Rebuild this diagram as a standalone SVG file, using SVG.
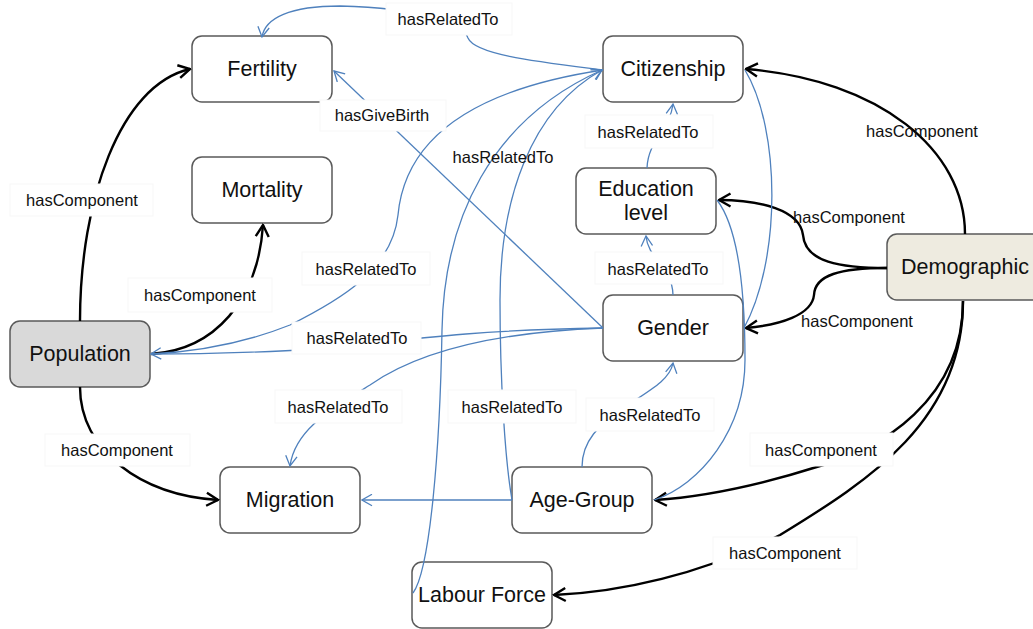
<svg xmlns="http://www.w3.org/2000/svg" width="1033" height="629" viewBox="0 0 1033 629">
<style>
.node rect{stroke:#5a5a5a;stroke-width:1.5;fill:#fff}
.node text{font-family:"Liberation Sans",Arial,sans-serif;font-size:21.5px;fill:#111;text-anchor:middle;dominant-baseline:central}
.k{fill:none;stroke:#000;stroke-width:2.4}
.b{fill:none;stroke:#4f81bd;stroke-width:1.3}
.lb rect{fill:#fff;stroke:#f7f7f7;stroke-width:1}
.lb text{font-family:"Liberation Sans",Arial,sans-serif;font-size:16.5px;fill:#111;text-anchor:middle;dominant-baseline:central}
</style>
<defs>
<marker id="ak" viewBox="0 0 16 16" refX="14.5" refY="8" markerWidth="16" markerHeight="16" markerUnits="userSpaceOnUse" orient="auto"><path d="M3,1.5 L14.5,8 L3,14.5" fill="none" stroke="#000" stroke-width="2.4"/></marker>
<marker id="au" viewBox="0 0 13 13" refX="12" refY="6.5" markerWidth="13" markerHeight="13" markerUnits="userSpaceOnUse" orient="auto"><path d="M2,0.8 L12,6.5 L2,12.2" fill="none" stroke="#4f81bd" stroke-width="1.3"/></marker>
</defs>
<rect width="1033" height="629" fill="#fff"/>
<g id="n-fertility" class="node"><rect x="192" y="36" width="140" height="66" rx="10"/><text x="262" y="69">Fertility</text></g>
<g id="n-citizenship" class="node"><rect x="603" y="36" width="140" height="66" rx="10"/><text x="673" y="69">Citizenship</text></g>
<g id="n-mortality" class="node"><rect x="192" y="157" width="140" height="66" rx="10"/><text x="262" y="190">Mortality</text></g>
<g id="n-education" class="node"><rect x="576" y="168" width="140" height="66" rx="10"/><text x="646" y="189">Education</text><text x="646" y="213">level</text></g>
<g id="n-population" class="node"><rect x="10" y="321" width="140" height="66" rx="10" style="fill:#d9d9d9"/><text x="80" y="354">Population</text></g>
<g id="n-gender" class="node"><rect x="603" y="295" width="140" height="66" rx="10"/><text x="673" y="328">Gender</text></g>
<g id="n-demographic" class="node"><rect x="887" y="234" width="160" height="66" rx="10" style="fill:#eeebe0"/><text x="965" y="267">Demographic</text></g>
<g id="n-migration" class="node"><rect x="220" y="467" width="140" height="66" rx="10"/><text x="290" y="500">Migration</text></g>
<g id="n-agegroup" class="node"><rect x="512" y="467" width="140" height="66" rx="10"/><text x="582" y="500">Age-Group</text></g>
<g id="n-labour" class="node"><rect x="412" y="562" width="140" height="66" rx="10"/><text x="482" y="595">Labour Force</text></g>
<g id="connectors">
<path class="k" d="M80,321 C80,200 120,85 190,69" marker-end="url(#ak)"/>
<path class="k" d="M151,354 C215,350 258,300 263,225" marker-end="url(#ak)"/>
<path class="k" d="M80,387 C80,450 140,495 218,500" marker-end="url(#ak)"/>
<path class="k" d="M965,234 C965,150 880,80 746,69" marker-end="url(#ak)"/>
<path class="k" d="M887,268 C840,268 805,262 803,235 C800,210 760,200 719,200" marker-end="url(#ak)"/>
<path class="k" d="M887,268 C840,268 815,275 814,295 C812,315 780,325 746,328" marker-end="url(#ak)"/>
<path class="k" d="M963,301 C963,400 880,450 820,466 C760,485 700,497 655,500" marker-end="url(#ak)"/>
<path class="k" d="M963,301 C963,420 870,480 780,535 C700,575 620,592 554,595" marker-end="url(#ak)"/>
<path class="b" d="M603,70 C540,62 475,55 468,38 C460,15 400,8 340,6 C290,6 265,18 262,37" marker-end="url(#au)"/>
<path class="b" d="M603,70 C470,90 405,140 398,215 C392,270 340,300 290,325 C240,345 190,352 151,354" marker-end="url(#au)"/>
<path class="b" d="M413,593 C430,570 440,450 442,330 C444,220 490,120 602,70" marker-end="url(#au)"/>
<path class="b" d="M512,500 C505,460 500,380 500,300 C500,200 530,110 602,70" marker-end="url(#au)"/>
<path class="b" d="M603,328 L334,71" marker-end="url(#au)"/>
<path class="b" d="M603,328 C480,330 420,338 360,345 C300,352 200,354 152,354"/>
<path class="b" d="M603,328 C500,332 420,350 370,385 C330,410 295,430 290,466" marker-end="url(#au)"/>
<path class="b" d="M512,500 L362,500" marker-end="url(#au)"/>
<path class="b" d="M647,168 C648,140 670,130 673,104" marker-end="url(#au)"/>
<path class="b" d="M673,295 C672,265 648,260 646,236" marker-end="url(#au)"/>
<path class="b" d="M582,467 C582,440 600,425 620,410 C650,390 670,380 673,363" marker-end="url(#au)"/>
<path class="b" d="M717,200 C740,230 745,300 745,360 C745,430 700,485 654,500"/>
<path class="b" d="M744,328 C781,260 781,130 745,70"/>
</g>
<g id="labels">
<g class="lb"><rect x="10" y="184" width="143" height="32"/><text x="82" y="200">hasComponent</text></g>
<g class="lb"><rect x="128" y="278" width="144" height="34"/><text x="200" y="295">hasComponent</text></g>
<g class="lb"><rect x="45" y="434" width="145" height="32"/><text x="117" y="450">hasComponent</text></g>
<g class="lb"><rect x="302" y="252" width="128" height="33"/><text x="366" y="269">hasRelatedTo</text></g>
<g class="lb"><rect x="292" y="322" width="129" height="32"/><text x="357" y="338">hasRelatedTo</text></g>
<g class="lb"><rect x="320" y="100" width="126" height="31"/><text x="382" y="115">hasGiveBirth</text></g>
<g class="lb"><rect x="386" y="3" width="126" height="32"/><text x="448" y="19">hasRelatedTo</text></g>
<g class="lb"><text x="503" y="157">hasRelatedTo</text></g>
<g class="lb"><rect x="585" y="115" width="128" height="33"/><text x="648" y="132">hasRelatedTo</text></g>
<g class="lb"><rect x="595" y="252" width="128" height="32"/><text x="658" y="269">hasRelatedTo</text></g>
<g class="lb"><rect x="275" y="390" width="127" height="33"/><text x="338" y="407">hasRelatedTo</text></g>
<g class="lb"><rect x="448" y="390" width="128" height="33"/><text x="512" y="407">hasRelatedTo</text></g>
<g class="lb"><rect x="586" y="398" width="128" height="33"/><text x="650" y="415">hasRelatedTo</text></g>
<g class="lb"><text x="922" y="131">hasComponent</text></g>
<g class="lb"><text x="849" y="217">hasComponent</text></g>
<g class="lb"><text x="857" y="321">hasComponent</text></g>
<g class="lb"><rect x="750" y="433" width="143" height="33"/><text x="821" y="450">hasComponent</text></g>
<g class="lb"><rect x="713" y="537" width="144" height="32"/><text x="785" y="553">hasComponent</text></g>
</g>
</svg>
